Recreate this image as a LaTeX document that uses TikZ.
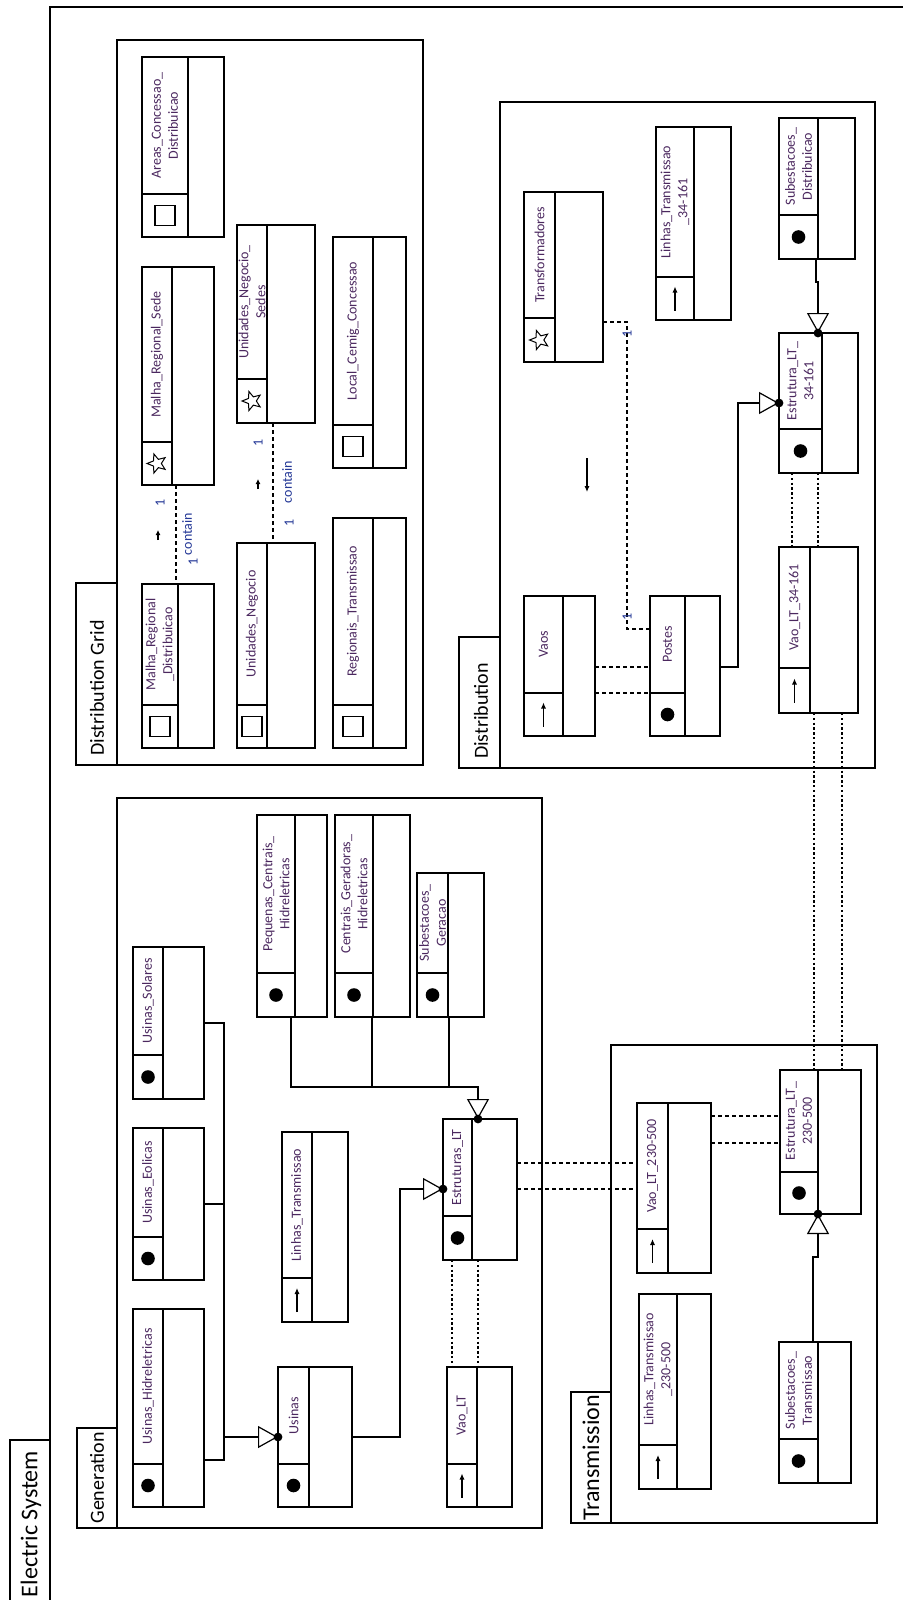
\documentclass[tikz,border=0pt]{standalone}
\usepackage{fontspec}
\setmainfont{Carlito}
\usetikzlibrary{arrows.meta,shapes.geometric}

\definecolor{clsname}{RGB}{75,40,95}
\definecolor{assoclbl}{RGB}{35,55,150}

% class box: name, x left, x split, x right, y top, y split, y bottom, icon, title
\newcommand{\umlclass}[9]{%
  \node[clsframe, minimum width={(#4-#2)*0.5pt}, minimum height={(#7-#5)*0.5pt}]
    (#1) at ({(#2+#4)/2},{(#5+#7)/2}) {};
  \draw[clsline] (#3,#5) -- (#3,#7);
  \draw[clsline] (#2,#6) -- (#3,#6);
  \node[clstitle] (#1-title) at ({(#2+#3)/2},{(#5+#6)/2}) {#9};
  \pic at ({(#2+#3)/2},{(#6+#7)/2}) {#8};
}

\begin{document}
\begin{tikzpicture}[x=0.5pt, y=-0.5pt,
  clsline/.style={line width=0.6pt},
  clsframe/.style={draw, rectangle, line width=0.6pt, inner sep=0pt, outer sep=0pt},
  clstitle/.style={rotate=90, align=center, inner sep=0pt, text=clsname, font=\fontsize{7}{8.5}\selectfont},
  pkgline/.style={line width=0.7pt},
  pkgtitle/.style={rotate=90, inner sep=0pt, font=\fontsize{10}{12}\selectfont},
  gen/.style={line width=0.6pt, -{Triangle[open, length=10pt, width=11pt]}},
  dep/.style={line width=0.6pt, dash pattern=on 2pt off 1.5pt},
  dotline/.style={line width=0.6pt, dash pattern=on 1.2pt off 1.2pt},
  lbl/.style={rotate=90, inner sep=0pt, text=assoclbl, font=\fontsize{7}{8}\selectfont},
  iconDot/.pic={\fill (0,0) circle (3.4pt);},
  iconSquare/.pic={\draw[line width=0.6pt] (-10,-10) rectangle (10,10);},
  iconStar/.pic={\node[draw, star, star points=5, star point ratio=2.3, minimum size=10pt,
    inner sep=0pt, rotate=90, line width=0.5pt] {};},
  iconArrow/.pic={\draw[line width=0.6pt, -{Latex[length=3pt, width=2.6pt]}] (0,12) -- (0,-12);}
]
\useasboundingbox (0,0) rectangle (903,1600);

% packages
\draw[pkgline] (10,1600) -- (10,1440) -- (50,1440);
\draw[pkgline] (50,1600) -- (50,7) -- (903,7);
\node[pkgtitle, font=\fontsize{12}{14}\selectfont] (esTitle) at (31,1524) {Electric System};

\draw[pkgline] (117,40) rectangle (423,765);
\draw[pkgline] (117,583) -- (76,583) -- (76,765) -- (117,765);
\node[pkgtitle] (dgTitle) at (97,688) {Distribution Grid};

\draw[pkgline] (117,798) rectangle (542,1528);
\draw[pkgline] (117,1428) -- (77,1428) -- (77,1528) -- (117,1528);
\node[pkgtitle] (genTitle) at (97,1478) {Generation};

\draw[pkgline] (500,102) rectangle (875,768);
\draw[pkgline] (500,637) -- (459,637) -- (459,768) -- (500,768);
\node[pkgtitle] (distTitle) at (481,711) {Distribution};

\draw[pkgline] (611,1045) rectangle (877,1523);
\draw[pkgline] (611,1392) -- (571,1392) -- (571,1523) -- (611,1523);
\node[pkgtitle, font=\fontsize{12}{14}\selectfont] (trTitle) at (591,1458) {Transmission};

% Distribution Grid
\umlclass{areasConc}{142}{188}{224}{57}{194}{237}{iconSquare}{Areas\_Concessao\_\\Distribuicao}
\umlclass{malhaSede}{142}{172}{214}{267}{442}{485}{iconStar}{Malha\_Regional\_Sede}
\umlclass{unidSedes}{237}{267}{315}{225}{379}{423}{iconStar}{Unidades\_Negocio\_\\Sedes}
\umlclass{localCemig}{333}{373}{406}{237}{425}{468}{iconSquare}{Local\_Cemig\_Concessao}
\umlclass{malhaDist}{142}{178}{214}{584}{705}{748}{iconSquare}{Malha\_Regional\\\_Distribuicao}
\umlclass{unidNeg}{237}{267}{315}{543}{705}{748}{iconSquare}{Unidades\_Negocio}
\umlclass{regTrans}{333}{373}{406}{518}{705}{748}{iconSquare}{Regionais\_Transmissao}

% Generation
\umlclass{usHidr}{133}{163}{204}{1309}{1464}{1507}{iconDot}{Usinas\_Hidreletricas}
\umlclass{usEol}{133}{163}{204}{1128}{1237}{1280}{iconDot}{Usinas\_Eolicas}
\umlclass{usSol}{133}{163}{204}{947}{1055}{1099}{iconDot}{Usinas\_Solares}
\umlclass{peqCent}{257}{295}{327}{815}{973}{1017}{iconDot}{Pequenas\_Centrais\_\\Hidreletricas}
\umlclass{centGer}{335}{373}{410}{815}{973}{1017}{iconDot}{Centrais\_Geradoras\_\\Hidreletricas}
\umlclass{subGer}{417}{448}{484}{873}{973}{1017}{iconDot}{Subestacoes\_\\Geracao}
\umlclass{usinas}{278}{309}{352}{1367}{1464}{1507}{iconDot}{Usinas}
\umlclass{linTrans}{282}{312}{348}{1132}{1278}{1322}{iconArrow}{Linhas\_Transmissao}
\umlclass{estLT}{443}{472}{517}{1119}{1216}{1260}{iconDot}{Estruturas\_LT}
\umlclass{vaoLT}{447}{477}{512}{1367}{1464}{1507}{iconArrow}{Vao\_LT}

% Transmission
\umlclass{vaoLT230}{637}{668}{711}{1103}{1229}{1273}{iconArrow}{Vao\_LT\_230-500}
\umlclass{linTrans230}{639}{677}{711}{1294}{1445}{1489}{iconArrow}{Linhas\_Transmissao\\\_230-500}
\umlclass{estLT230}{780}{818}{861}{1070}{1172}{1214}{iconDot}{Estrutura\_LT\_\\230-500}
\umlclass{subTrans}{779}{818}{851}{1342}{1439}{1483}{iconDot}{Subestacoes\_\\Transmissao}

% Distribution
\umlclass{transf}{524}{555}{603}{192}{318}{362}{iconStar}{Transformadores}
\umlclass{linTrans34}{656}{694}{731}{127}{277}{320}{iconArrow}{Linhas\_Transmissao\\\_34-161}
\umlclass{subDist}{779}{818}{855}{118}{215}{259}{iconDot}{Subestacoes\_\\Distribuicao}
\umlclass{estLT34}{779}{822}{858}{333}{429}{473}{iconDot}{Estrutura\_LT\_\\34-161}
\umlclass{vaos}{524}{563}{595}{596}{693}{736}{iconArrow}{Vaos}
\umlclass{postes}{650}{685}{720}{596}{693}{736}{iconDot}{Postes}
\umlclass{vaoLT34}{779}{810}{858}{547}{668}{713}{iconArrow}{Vao\_LT\_34-161}

% generalizations
\coordinate (usBus) at (224,1437);
\draw[clsline] (usSol.east |- 0,1023) -- (224,1023) -- (224,1460) -- (usHidr.east |- 0,1460);
\draw[clsline] (usEol.east |- 0,1204) -- (224,1204);
\draw[gen] (usBus) -- (usinas.west |- usBus);
\fill (usinas.west |- usBus) circle (2.2pt);

\draw[gen] (usinas.east |- usBus) -| (400,1189) -- (estLT.west |- 0,1189);
\fill (estLT.west |- 0,1189) circle (2.2pt);

\draw[gen] (291,0 |- peqCent.south) -- (291,1087) -- (478,1087) -- (estLT.north -| 478,0);
\draw[clsline] (372,0 |- centGer.south) -- (372,1087);
\draw[clsline] (449,0 |- subGer.south) -- (449,1087);
\fill (estLT.north -| 478,0) circle (2.2pt);

\draw[gen] (813,0 |- subTrans.north) -- (813,1257) -- (818,1257) -- (estLT230.south -| 818,0);
\fill (estLT230.south -| 818,0) circle (2.2pt);

\draw[gen] (816,0 |- subDist.south) -- (816,282) -- (818,282) -- (estLT34.north -| 818,0);
\fill (estLT34.north -| 818,0) circle (2.2pt);

\draw[gen] (postes.east |- 0,667) -| (738,403) -- (estLT34.west |- 0,403);
\fill (estLT34.west |- 0,403) circle (2.2pt);

% associations
\draw[dep] (estLT.east |- 0,1163) -- (vaoLT230.west |- 0,1163);
\draw[dep] (estLT.east |- 0,1189) -- (vaoLT230.west |- 0,1189);
\draw[dep] (vaoLT230.east |- 0,1116) -- (estLT230.west |- 0,1116);
\draw[dep] (vaoLT230.east |- 0,1143) -- (estLT230.west |- 0,1143);
\draw[dotline] (452,0 |- estLT.south) -- (452,0 |- vaoLT.north);
\draw[dotline] (478,0 |- estLT.south) -- (478,0 |- vaoLT.north);
\draw[dep] (vaos.east |- 0,667) -- (postes.west |- 0,667);
\draw[dep] (vaos.east |- 0,693) -- (postes.west |- 0,693);
\draw[dotline] (792,0 |- estLT34.south) -- (792,0 |- vaoLT34.north);
\draw[dotline] (818,0 |- estLT34.south) -- (818,0 |- vaoLT34.north);
\draw[dotline] (814,0 |- vaoLT34.south) -- (814,0 |- estLT230.north);
\draw[dotline] (842,0 |- vaoLT34.south) -- (842,0 |- estLT230.north);

\draw[dep] (transf.east |- 0,322) -- (627,322) -- (627,629) -- (postes.west |- 0,629);
\node[lbl] (transfOne) at (627,334) {1};
\node[lbl] (postesOne) at (627,617) {1};
\draw[clsline, -{Latex[length=3pt, width=2.6pt]}] (587,458) -- (587,492);

\draw[dep] (176,0 |- malhaSede.south) -- (176,0 |- malhaDist.north);
\node[lbl] (sedeOne) at (160,503) {1};
\draw[clsline, -{Latex[length=2.5pt, width=2.5pt]}] (158,540) -- (158,530);
\node[lbl] (sedeName) at (187,534) {contain};
\node[lbl] (distOne) at (193,562) {1};

\draw[dep] (273,0 |- unidSedes.south) -- (273,0 |- unidNeg.north);
\node[lbl] (unidSedesOne) at (258,443) {1};
\draw[clsline, -{Latex[length=2.5pt, width=2.5pt]}] (258,489) -- (258,479);
\node[lbl] (unidName) at (287,482) {contain};
\node[lbl] (unidNegOne) at (289,523) {1};
\end{tikzpicture}
\end{document}
